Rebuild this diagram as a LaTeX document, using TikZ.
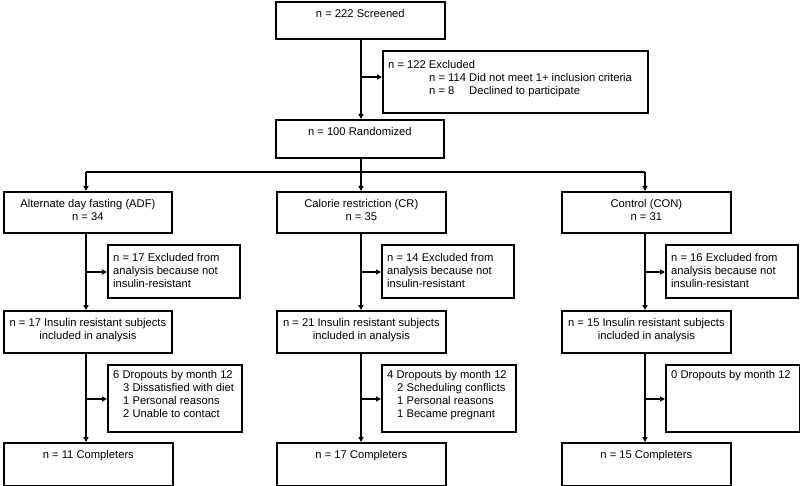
\documentclass[tikz,border=0pt]{standalone}
\usepackage{fontspec}
\setmainfont{Liberation Sans}
\usetikzlibrary{arrows.meta}
\begin{document}
\begin{tikzpicture}[x=1pt,y=-1pt,
  box/.style={draw, line width=1.7pt, rectangle, inner sep=0pt, anchor=north west},
  txt/.style={inner sep=0pt, font=\fontsize{11.2}{13}\selectfont},
  ctxt/.style={txt, anchor=north, align=center},
  ltxt/.style={txt, anchor=north west, align=left},
  conn/.style={line width=1.7pt},
  arr/.style={conn, -{Triangle[length=5pt,width=5pt]}},
]
\useasboundingbox (0,0) rectangle (800,486);

% top part
\node[box, minimum width=169pt, minimum height=37pt] (screen) at (275,1) {};
\node[ctxt] (tscreen) at ([yshift=-8.5pt]screen.north) {n = 222 Screened};
\node[box, minimum width=265pt, minimum height=62pt] (excl) at (382,50) {};
\node[ltxt] (texcl) at ([xshift=6pt,yshift=-10pt]excl.north west) {n = 122 Excluded\\
\hspace*{41pt}\makebox[40pt][l]{n = 114}Did not meet 1+ inclusion criteria\\
\hspace*{41pt}\makebox[40pt][l]{n = 8}Declined to participate};
\node[box, minimum width=168pt, minimum height=38pt] (rand) at (275,119) {};
\node[ctxt] (trand) at ([yshift=-8.5pt]rand.north) {n = 100 Randomized};

\coordinate (b0) at (361,77);
\draw[arr] (screen.south -| b0) -- (rand.north -| b0);
\draw[arr] (b0) -- (b0 -| excl.west);

% groups
\node[box, minimum width=168pt, minimum height=41pt] (adf) at (3,191) {};
\node[ctxt] (tadf) at ([yshift=-8.5pt]adf.north) {Alternate day fasting (ADF)\\n = 34};
\node[box, minimum width=169pt, minimum height=41pt] (cr) at (276,191) {};
\node[ctxt] (tcr) at ([yshift=-8.5pt]cr.north) {Calorie restriction (CR)\\n = 35};
\node[box, minimum width=169pt, minimum height=41pt] (con) at (561,191) {};
\node[ctxt] (tcon) at ([yshift=-8.5pt]con.north) {Control (CON)\\n = 31};

\coordinate (h) at (361,172);
\coordinate (ha) at (86,172);
\coordinate (hc) at (645,172);
\draw[conn] (rand.south -| h) -- (h);
\draw[conn] (ha) -- (hc);
\draw[arr] (ha) -- (ha |- adf.north);
\draw[arr] (h) -- (h |- cr.north);
\draw[arr] (hc) -- (hc |- con.north);

% excluded from analysis
\node[box, minimum width=132pt, minimum height=53pt] (exa) at (107,244) {};
\node[ltxt] (texa) at ([xshift=6pt,yshift=-9.5pt]exa.north west) {n = 17 Excluded from\\analysis because not\\insulin-resistant};
\node[box, minimum width=132pt, minimum height=53pt] (exc) at (381,244) {};
\node[ltxt] (texc) at ([xshift=6pt,yshift=-9.5pt]exc.north west) {n = 14 Excluded from\\analysis because not\\insulin-resistant};
\node[box, minimum width=132pt, minimum height=53pt] (exn) at (665,244) {};
\node[ltxt] (texn) at ([xshift=6pt,yshift=-9.5pt]exn.north west) {n = 16 Excluded from\\analysis because not\\insulin-resistant};

% insulin resistant
\node[box, minimum width=168pt, minimum height=42pt] (ira) at (3,310) {};
\node[ctxt] (tira) at ([yshift=-8.5pt]ira.north) {n = 17 Insulin resistant subjects\\included in analysis};
\node[box, minimum width=169pt, minimum height=42pt] (irc) at (276,310) {};
\node[ctxt] (tirc) at ([yshift=-8.5pt]irc.north) {n = 21 Insulin resistant subjects\\included in analysis};
\node[box, minimum width=169pt, minimum height=42pt] (irn) at (561,310) {};
\node[ctxt] (tirn) at ([yshift=-8.5pt]irn.north) {n = 15 Insulin resistant subjects\\included in analysis};

% dropouts
\node[box, minimum width=134pt, minimum height=67pt] (dra) at (107,364) {};
\node[ltxt] (tdra) at ([xshift=6pt,yshift=-6pt]dra.north west) {6 Dropouts by month 12\\
\hspace*{10pt}3 Dissatisfied with diet\\\hspace*{10pt}1 Personal reasons\\\hspace*{10pt}2 Unable to contact};
\node[box, minimum width=134pt, minimum height=67pt] (drc) at (381,364) {};
\node[ltxt] (tdrc) at ([xshift=6pt,yshift=-6pt]drc.north west) {4 Dropouts by month 12\\
\hspace*{10pt}2 Scheduling conflicts\\\hspace*{10pt}1 Personal reasons\\\hspace*{10pt}1 Became pregnant};
\node[box, minimum width=134pt, minimum height=67pt] (drn) at (665,364) {};
\node[ltxt] (tdrn) at ([xshift=6pt,yshift=-6pt]drn.north west) {0 Dropouts by month 12};

% completers
\node[box, minimum width=169pt, minimum height=43pt] (cpa) at (3,442) {};
\node[ctxt] (tcpa) at ([yshift=-8.5pt]cpa.north) {n = 11 Completers};
\node[box, minimum width=169pt, minimum height=43pt] (cpc) at (276,442) {};
\node[ctxt] (tcpc) at ([yshift=-8.5pt]cpc.north) {n = 17 Completers};
\node[box, minimum width=169pt, minimum height=43pt] (cpn) at (561,442) {};
\node[ctxt] (tcpn) at ([yshift=-8.5pt]cpn.north) {n = 15 Completers};

% column connectors
\coordinate (ea) at (86,272);
\coordinate (ec) at (361,272);
\coordinate (en) at (645,272);
\coordinate (da) at (86,399);
\coordinate (dc) at (361,399);
\coordinate (dn) at (645,399);
\draw[arr] (adf.south -| ea) -- (ira.north -| ea);
\draw[arr] (cr.south -| ec) -- (irc.north -| ec);
\draw[arr] (con.south -| en) -- (irn.north -| en);
\draw[arr] (ea) -- (ea -| exa.west);
\draw[arr] (ec) -- (ec -| exc.west);
\draw[arr] (en) -- (en -| exn.west);
\draw[arr] (ira.south -| da) -- (cpa.north -| da);
\draw[arr] (irc.south -| dc) -- (cpc.north -| dc);
\draw[arr] (irn.south -| dn) -- (cpn.north -| dn);
\draw[arr] (da) -- (da -| dra.west);
\draw[arr] (dc) -- (dc -| drc.west);
\draw[arr] (dn) -- (dn -| drn.west);
\end{tikzpicture}
\end{document}
